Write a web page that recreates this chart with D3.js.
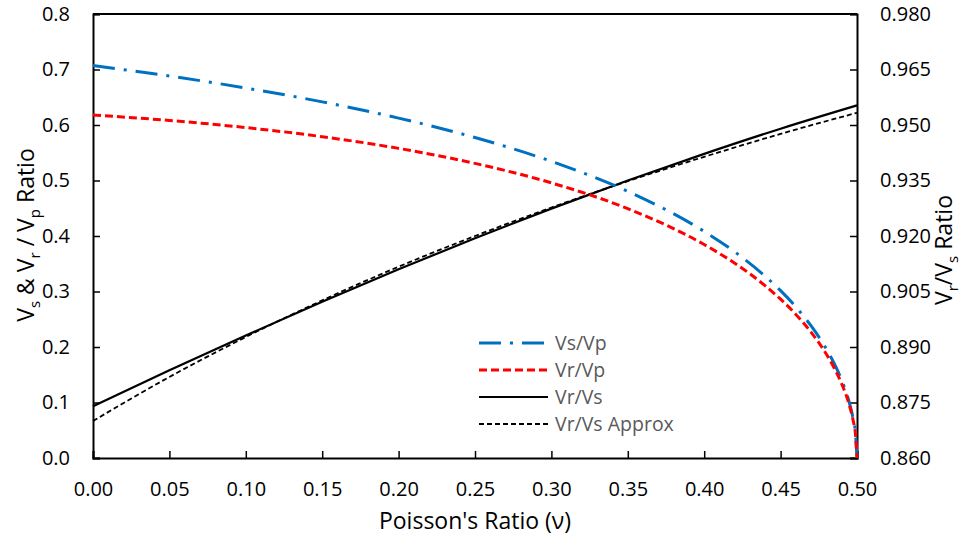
<!DOCTYPE html>
<html>
<head>
<meta charset="utf-8">
<script src="https://cdn.jsdelivr.net/npm/d3@7"></script>
<style>
body { margin: 0; background: #ffffff; }
text { font-family: "Open Sans", "Noto Sans", sans-serif; }
</style>
</head>
<body>
<script>
// poisson's ratio sample points
var nu = [0, 0.05, 0.10, 0.15, 0.20, 0.25, 0.30, 0.35, 0.40, 0.42, 0.44, 0.45, 0.46, 0.47, 0.475, 0.48, 0.485, 0.49, 0.495, 0.4975, 0.499, 0.5];
// left axis series
var vsvp = [0.7071, 0.6882, 0.6667, 0.6417, 0.6124, 0.5774, 0.5345, 0.4804, 0.4082, 0.3714, 0.3273, 0.3015, 0.2722, 0.2379, 0.2182, 0.1961, 0.1707, 0.1400, 0.0995, 0.0705, 0.0447, 0];
var vrvp = [0.6180, 0.6082, 0.5954, 0.5789, 0.5579, 0.5308, 0.4957, 0.4492, 0.3846, 0.3510, 0.3102, 0.2861, 0.2587, 0.2264, 0.2078, 0.1868, 0.1627, 0.1336, 0.0950, 0.0673, 0.0427, 0];
// right axis series
var nuR = [0, 0.05, 0.10, 0.15, 0.20, 0.25, 0.30, 0.35, 0.40, 0.45, 0.50];
var vrvs = [0.8740, 0.8837, 0.8931, 0.9022, 0.9110, 0.9194, 0.9274, 0.9350, 0.9422, 0.9490, 0.9553];
var vrvsApprox = [0.8700, 0.8819, 0.8927, 0.9026, 0.9117, 0.9200, 0.9277, 0.9348, 0.9414, 0.9476, 0.9533];

var xTicks = [0, 0.05, 0.10, 0.15, 0.20, 0.25, 0.30, 0.35, 0.40, 0.45, 0.50];
var yTicks = [0, 0.1, 0.2, 0.3, 0.4, 0.5, 0.6, 0.7, 0.8];
var y2Ticks = [0.860, 0.875, 0.890, 0.905, 0.920, 0.935, 0.950, 0.965, 0.980];

var width = 966, height = 548;
var margin = {left: 93, right: 109, top: 14, bottom: 90};

var svg = d3.select("body").append("svg").attr("width", width).attr("height", height);

var x = d3.scaleLinear().domain([0, 0.5]).range([margin.left, width - margin.right]);
var y = d3.scaleLinear().domain([0, 0.8]).range([height - margin.bottom, margin.top]);
var y2 = d3.scaleLinear().domain([0.86, 0.98]).range([height - margin.bottom, margin.top]);

// axes (ticks point inward)
var gx = svg.append("g").attr("transform", "translate(0," + (height - margin.bottom) + ")")
	.call(d3.axisBottom(x).tickValues(xTicks).tickSize(-7).tickPadding(24).tickFormat(d3.format(".2f")));
var gy = svg.append("g").attr("transform", "translate(" + margin.left + ",0)")
	.call(d3.axisLeft(y).tickValues(yTicks).tickSize(-7).tickPadding(23).tickFormat(d3.format(".1f")));
var gy2 = svg.append("g").attr("transform", "translate(" + (width - margin.right) + ",0)")
	.call(d3.axisRight(y2).tickValues(y2Ticks).tickSize(-7).tickPadding(23).tickFormat(d3.format(".3f")));

[gx, gy, gy2].forEach(function(g) {
	g.select(".domain").attr("stroke", "#000").attr("stroke-width", 2);
	g.selectAll(".tick line").attr("stroke", "#000").attr("stroke-width", 1.5);
	g.selectAll(".tick text").attr("fill", "#000").style("font-size", "20px").style("font-family", "'Open Sans', sans-serif");
});

// top border
svg.append("line")
	.attr("x1", margin.left).attr("x2", width - margin.right)
	.attr("y1", margin.top).attr("y2", margin.top)
	.attr("stroke", "#000").attr("stroke-width", 2);

var lineL = function(ys) {
	return d3.line().x(function(d, i) { return x(nu[i]); }).y(function(d) { return y(d); }).curve(d3.curveMonotoneX)(ys);
};
var lineR = function(ys) {
	return d3.line().x(function(d, i) { return x(nuR[i]); }).y(function(d) { return y2(d); }).curve(d3.curveMonotoneX)(ys);
};

var styles = [
	{name: "Vs/Vp", color: "#0070c0", dash: "22,9,3,9", w: 3},
	{name: "Vr/Vp", color: "#ff0000", dash: "8,4", w: 3},
	{name: "Vr/Vs", color: "#000000", dash: null, w: 2.2},
	{name: "Vr/Vs Approx", color: "#000000", dash: "5,3", w: 1.8}
];

svg.append("path").attr("d", lineR(vrvs)).attr("fill", "none")
	.attr("stroke", styles[2].color).attr("stroke-width", styles[2].w);
svg.append("path").attr("d", lineR(vrvsApprox)).attr("fill", "none")
	.attr("stroke", styles[3].color).attr("stroke-width", styles[3].w).attr("stroke-dasharray", styles[3].dash);
svg.append("path").attr("d", lineL(vsvp)).attr("fill", "none")
	.attr("stroke", styles[0].color).attr("stroke-width", styles[0].w).attr("stroke-dasharray", styles[0].dash);
svg.append("path").attr("d", lineL(vrvp)).attr("fill", "none")
	.attr("stroke", styles[1].color).attr("stroke-width", styles[1].w).attr("stroke-dasharray", styles[1].dash);

// legend
var leg = svg.append("g").attr("transform", "translate(479,343)");
styles.forEach(function(s, i) {
	var gy_ = i * 27;
	leg.append("line").attr("x1", 0).attr("x2", 69).attr("y1", gy_).attr("y2", gy_)
		.attr("stroke", s.color).attr("stroke-width", s.w)
		.attr("stroke-dasharray", s.dash);
	leg.append("text").attr("x", 76).attr("y", gy_ + 7)
		.attr("fill", "#595959").style("font-size", "19.5px").text(s.name);
});

// axis titles
svg.append("text").attr("x", (margin.left + width - margin.right) / 2).attr("y", 529)
	.attr("text-anchor", "middle").style("font-size", "23px").text("Poisson's Ratio (\u03bd)");

var tl = svg.append("text").attr("transform", "translate(34,235) rotate(-90)")
	.attr("text-anchor", "middle").style("font-size", "23px");
tl.append("tspan").text("V");
tl.append("tspan").attr("dy", 6).style("font-size", "15px").text("s");
tl.append("tspan").attr("dy", -6).text(" & V");
tl.append("tspan").attr("dy", 6).style("font-size", "15px").text("r");
tl.append("tspan").attr("dy", -6).text(" / V");
tl.append("tspan").attr("dy", 6).style("font-size", "15px").text("p");
tl.append("tspan").attr("dy", -6).text(" Ratio");

var tr = svg.append("text").attr("transform", "translate(952,250) rotate(-90)")
	.attr("text-anchor", "middle").style("font-size", "23px");
tr.append("tspan").text("V");
tr.append("tspan").attr("dy", 6).style("font-size", "15px").text("r");
tr.append("tspan").attr("dy", -6).text("/V");
tr.append("tspan").attr("dy", 6).style("font-size", "15px").text("s");
tr.append("tspan").attr("dy", -6).text(" Ratio");
</script>
</body>
</html>
